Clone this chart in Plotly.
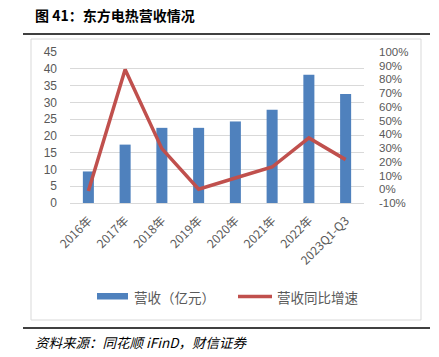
import plotly.graph_objects as go

categories = ["2016年", "2017年", "2018年", "2019年", "2020年", "2021年", "2022年", "2023Q1-Q3"]
revenue = [9.4, 17.4, 22.4, 22.4, 24.3, 27.8, 38.2, 32.5]
growth = [-1.2, 87.2, 29.6, 0.0, 8.2, 16.2, 37.4, 21.6]
left_ticks = [0, 5, 10, 15, 20, 25, 30, 35, 40, 45]
right_ticks = [-10, 0, 10, 20, 30, 40, 50, 60, 70, 80, 90, 100]

W, H = 439, 357
L, R, T, B = 70, 364, 52, 203

def px(x):
    return (x - L) / (R - L)

def py(y):
    return (B - y) / (B - T)

FONT = "Noto Sans CJK SC, Noto Sans, sans-serif"
NUMFONT = "Liberation Sans, Arial, sans-serif"
GRAY = "#595959"
BLUE = "#4F81BD"
RED = "#C0504D"

fig = go.Figure()
fig.add_trace(go.Bar(x=categories, y=revenue, marker=dict(color=BLUE, line=dict(width=0)),
                     width=0.3, name="营收（亿元）", showlegend=False, hoverinfo="skip"))
fig.add_trace(go.Scatter(x=categories, y=growth, yaxis="y2", mode="lines",
                         line=dict(color=RED, width=3.5), name="营收同比增速", showlegend=False,
                         hoverinfo="skip"))

fig.update_layout(
    width=W, height=H, autosize=False,
    margin=dict(l=L, r=W - R, t=T, b=H - B),
    paper_bgcolor="white", plot_bgcolor="white",
    font=dict(family=FONT, size=12, color=GRAY),
    xaxis=dict(type="category", tickangle=-45, showgrid=False, zeroline=False,
               showline=True, linecolor="#D9D9D9", linewidth=1, ticks="",
               tickfont=dict(family=FONT, size=12, color=GRAY), range=[-0.5, 7.5],
               ticklabelstandoff=5, automargin=False),
    yaxis=dict(range=[0, 45], tickvals=left_ticks, showgrid=True, gridcolor="#D9D9D9",
               gridwidth=1, zeroline=False, showline=False, ticks="",
               tickfont=dict(family=NUMFONT, size=12, color=GRAY), ticklabelstandoff=12,
               automargin=False),
    yaxis2=dict(range=[-10, 100], tickvals=right_ticks, ticktext=[f"{v}%" for v in right_ticks],
                overlaying="y", side="right", showgrid=False, zeroline=False, showline=False,
                ticks="", tickfont=dict(family=NUMFONT, size=11.5, color=GRAY), ticklabelstandoff=14,
                automargin=False),
)

shapes = []
shapes.append(dict(type="rect", xref="paper", yref="paper", x0=px(31), x1=px(421), y0=py(320), y1=py(39),
                   line=dict(color="#D9D9D9", width=1), fillcolor="rgba(0,0,0,0)", layer="below"))
shapes.append(dict(type="line", xref="paper", yref="paper", x0=px(23), x1=px(430), y0=py(34), y1=py(34),
                   line=dict(color="#000000", width=1.5)))
shapes.append(dict(type="line", xref="paper", yref="paper", x0=px(23), x1=px(430), y0=py(328), y1=py(328),
                   line=dict(color="#000000", width=1.5)))
shapes.append(dict(type="rect", xref="paper", yref="paper", x0=px(97), x1=px(128), y0=py(299.5), y1=py(293),
                   line=dict(width=0), fillcolor=BLUE))
shapes.append(dict(type="line", xref="paper", yref="paper", x0=px(238), x1=px(272), y0=py(296.5), y1=py(296.5),
                   line=dict(color=RED, width=3.5)))
fig.update_layout(shapes=shapes)

ann = []
ann.append(dict(text="<b>图 41：东方电热营收情况</b>", xref="paper", yref="paper", x=px(33), y=py(15),
                xanchor="left", yanchor="middle", showarrow=False,
                font=dict(family="Noto Sans CJK SC", size=14, color="#000000")))
ann.append(dict(text="营收（亿元）", xref="paper", yref="paper", x=px(132), y=py(296.5),
                xanchor="left", yanchor="middle", showarrow=False, font=dict(size=13.5, color=GRAY)))
ann.append(dict(text="营收同比增速", xref="paper", yref="paper", x=px(275), y=py(296.5),
                xanchor="left", yanchor="middle", showarrow=False, font=dict(size=13.5, color=GRAY)))
ann.append(dict(text="<i>资料来源：同花顺 iFinD，财信证券</i>", xref="paper", yref="paper", x=px(33), y=py(342),
                xanchor="left", yanchor="middle", showarrow=False,
                font=dict(family="Noto Sans CJK SC", size=13.5, color="#000000")))
fig.update_layout(annotations=ann)

fig.write_html("out.html", config={"displayModeBar": False},
               post_script="document.body.style.margin='0';document.body.style.padding='0';")
